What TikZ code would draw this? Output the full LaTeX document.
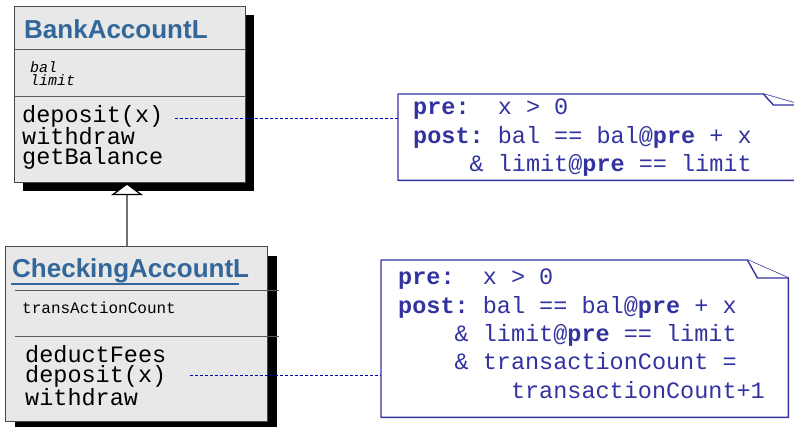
\documentclass[tikz,border=0pt]{standalone}
\usepackage{fontspec}
\setsansfont{Liberation Sans}
\setmonofont{Liberation Mono}
\usetikzlibrary{arrows.meta, positioning, calc, shadows}
\definecolor{umlblue}{HTML}{336699}
\definecolor{noteblue}{HTML}{3333A0}
\definecolor{linkblue}{HTML}{0000BB}
\definecolor{boxgray}{HTML}{E8E8E8}

\begin{document}
\begin{tikzpicture}[
    x=1pt, y=-1pt, >=Stealth,
    classbox/.style={rectangle, draw=black!72, line width=1.2pt, fill=boxgray, inner sep=0pt, anchor=north west, general shadow={fill=black, shadow xshift=#1, shadow yshift=-#1}},
    classbox/.default=8pt,
    classname/.style={anchor=base west, inner sep=0pt, text=umlblue, font=\sffamily\bfseries\fontsize{26}{30}\selectfont},
    attrs/.style={anchor=base west, inner sep=0pt, align=left, font=\ttfamily\fontsize{15}{13}\selectfont},
    ops/.style={anchor=base west, inner sep=0pt, align=left, font=\ttfamily\fontsize{23.5}{20}\selectfont},
    sep/.style={draw=black!65, line width=1pt},
    notebox/.style={rectangle, inner sep=0pt, anchor=north west},
    noteline/.style={draw=noteblue, line width=1.4pt, fill=white, line join=round},
    notetext/.style={anchor=base west, inner sep=0pt, align=left, text=noteblue, font=\ttfamily\fontsize{23.5}{28.3}\selectfont},
    link/.style={draw=linkblue, line width=0.8pt, dash pattern=on 3pt off 2pt},
    inherit/.style={draw=black!55, line width=1.3pt, -{Triangle[open, width=32pt, length=12pt, fill=white, color=black]}},
]
\useasboundingbox (0,0) rectangle (794,427);

% superclass (multi-line nodes sit on their last baseline)
\node[classbox, minimum width=231pt, minimum height=176pt] (bank) at (14,6) {};
\node[classname] (bankname) at (24,39) {BankAccountL};
\draw[sep] ($(bank.north west)+(0,44)$) -- ($(bank.north east)+(0,44)$);
\draw[sep] ($(bank.north west)+(0,91)$) -- ($(bank.north east)+(0,91)$);
\node[attrs, font=\ttfamily\itshape\fontsize{15}{13}\selectfont] (bankattrs) at (30,86) {bal\\limit};
\node[ops] (bankops) at (22,165) {deposit(x)\\withdraw\\getBalance};

% subclass
\node[classbox=9pt, minimum width=262pt, minimum height=175pt] (check) at (5,246) {};
\node[classname] (checkname) at (12,278) {CheckingAccountL};
\draw[umlblue, line width=2pt] ($(checkname.base west)+(-1,6)$) -- ++(228,0);
\draw[sep] ($(check.north west)+(10,44)$) -- ($(check.north east)+(11,44)$);
\draw[sep] ($(check.north west)+(10,90)$) -- ($(check.north east)+(11,90)$);
\node[attrs, font=\ttfamily\fontsize{16}{14}\selectfont] (checkattrs) at (22,313) {transActionCount};
\node[ops] (checkops) at (25,405) {deductFees\\deposit(x)\\withdraw};

\coordinate (gen) at ($(check.north west)+(122,0)$);
\draw[inherit] (gen) -- (gen |- bank.south);

% constraint notes
\node[notebox, minimum width=403pt, minimum height=86pt] (pre1) at (398,94) {};
\draw[noteline] (pre1.south west) -- (pre1.north west) -- ($(pre1.north east)+(-38,0)$) -- ($(pre1.north east)+(0,11)$) -- (pre1.south east) -- cycle;
\draw[noteline] ($(pre1.north east)+(-38,0)$) -- ($(pre1.north east)+(-28,11)$) -- ($(pre1.north east)+(0,11)$);
\node[notetext] (pre1text) at (413,171.6) {\textbf{pre:}~~x~>~0\\\textbf{post:}~bal~==~bal@\textbf{pre}~+~x\\\phantom{xxxx}\&~limit@\textbf{pre}~==~limit};

\node[notebox, minimum width=407pt, minimum height=157pt] (pre2) at (381,260) {};
\draw[noteline] (pre2.south west) -- (pre2.north west) -- ($(pre2.north east)+(-41,0)$) -- ($(pre2.north east)+(0,18)$) -- (pre2.south east) -- cycle;
\draw[noteline] ($(pre2.north east)+(-41,0)$) -- ($(pre2.north east)+(-31,18)$) -- ($(pre2.north east)+(0,18)$);
\node[notetext] (pre2text) at (398,398) {\textbf{pre:}~~x~>~0\\\textbf{post:}~bal~==~bal@\textbf{pre}~+~x\\\phantom{xxxx}\&~limit@\textbf{pre}~==~limit\\\phantom{xxxx}\&~transactionCount~=\\\phantom{xxxxxxxx}transactionCount+1};

\coordinate (dep1) at (175,118);
\draw[link] (dep1) -- (dep1 -| pre1.west);
\coordinate (dep2) at (190,375);
\draw[link] (dep2) -- (dep2 -| pre2.west);
\end{tikzpicture}
\end{document}
